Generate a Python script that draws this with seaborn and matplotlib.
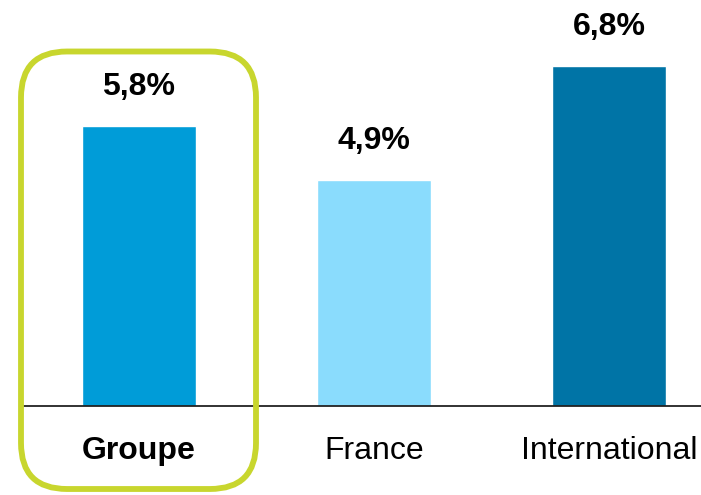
import matplotlib
matplotlib.use("Agg")
import matplotlib.pyplot as plt
from matplotlib.patches import FancyBboxPatch
from matplotlib.transforms import IdentityTransform
import seaborn as sns
import pandas as pd

# Growth by segment
categories = ["Groupe", "France", "International"]
values = [5.8, 4.9, 6.8]
bar_colors = ["#009CD8", "#8ADCFD", "#0074A6"]
highlight_color = "#C8D62E"

df = pd.DataFrame({"segment": categories, "value": values})

sns.set_theme(style="white")
plt.rcParams["font.family"] = ["Liberation Sans", "DejaVu Sans"]

fig = plt.figure(figsize=(7.01, 4.95), dpi=100)
ax = fig.add_axes([24 / 701, (495 - 405.7) / 495, (701 - 24) / 701, 405.7 / 495])

sns.barplot(data=df, x="segment", y="value", hue="segment",
            palette=bar_colors, width=0.485, legend=False, ax=ax,
            saturation=1)

ax.set_xlim(-0.489, 2.391)
ax.set_ylim(1.139, 1.139 + 405.7 / 60)

labels = [f"{v:.1f}".replace(".", ",") + "%" for v in values]
for container, lab in zip(ax.containers, labels):
    ax.bar_label(container, labels=[lab], padding=17, fontsize=23,
                 fontweight="bold", color="black")

ax.set_xlabel("")
ax.set_ylabel("")
ax.set_yticks([])
ax.tick_params(axis="x", length=0, pad=22, labelsize=23, labelcolor="black")
for t in ax.get_xticklabels():
    if t.get_text() == "Groupe":
        t.set_fontweight("bold")

for side in ["top", "right", "left"]:
    ax.spines[side].set_visible(False)
ax.spines["bottom"].set_color("#222222")
ax.spines["bottom"].set_linewidth(1.3)

# Highlight frame around the group column
frame = FancyBboxPatch((21, 6), 235, 437.5,
                       boxstyle="round,pad=0,rounding_size=46",
                       transform=IdentityTransform(), fill=False,
                       edgecolor=highlight_color, linewidth=4.2,
                       clip_on=False, zorder=5)
fig.patches.append(frame)

fig.savefig("out.png", dpi=100)
